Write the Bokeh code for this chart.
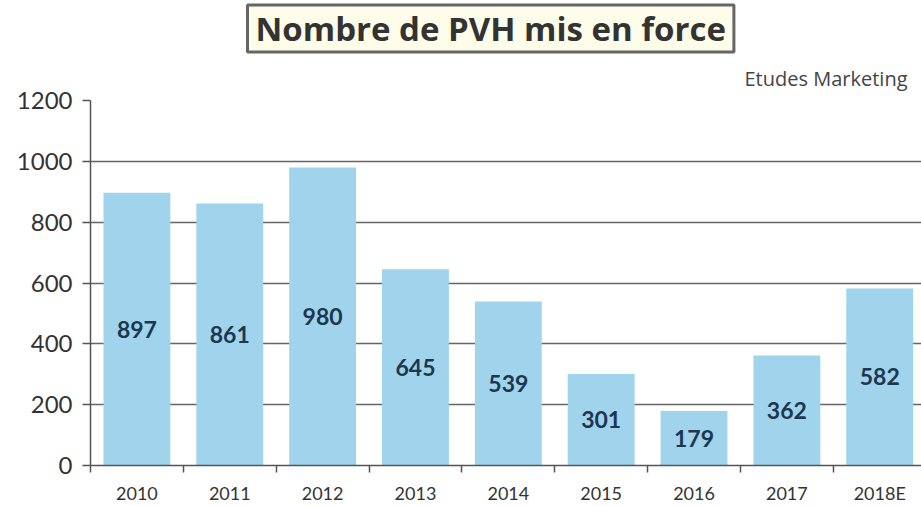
from bokeh.plotting import figure
from bokeh.models import Range1d, FixedTicker, Title, ColumnDataSource
from bokeh.core.properties import value
from bokeh.embed import file_html
from bokeh.resources import INLINE

years = ["2010", "2011", "2012", "2013", "2014", "2015", "2016", "2017", "2018E"]
counts = [897, 861, 980, 645, 539, 301, 179, 362, 582]
y_ticks = [0, 200, 400, 600, 800, 1000, 1200]
title_text = "Nombre de PVH mis en force"
source_text = "Etudes Marketing"

FONT = "Lato"
TFONT = "Open Sans"
xs = list(range(len(years)))
src = ColumnDataSource(dict(x=xs, v=counts, mid=[c / 2 for c in counts],
                            lab=[str(c) for c in counts]))

p = figure(width=921, height=506, output_backend="svg", toolbar_location=None,
           x_range=Range1d(-0.5, 8.45), y_range=Range1d(0, 1200),
           min_border_left=90, min_border_right=0, min_border_top=0, min_border_bottom=41)
p.outline_line_color = None
p.background_fill_color = "white"
p.border_fill_color = "white"

p.vbar(x="x", top="v", bottom=0, width=0.72, source=src,
       fill_color="#9fd4ec", line_color=None)
p.text(x="x", y="mid", text="lab", source=src, text_align="center", text_baseline="middle",
       text_font=value(FONT), text_font_style="bold", text_font_size="23px", text_color="#1d3750")

# axes
p.xaxis.ticker = FixedTicker(ticks=xs, minor_ticks=[i - 0.5 for i in range(len(years) + 1)])
p.xaxis.major_label_overrides = {i: y for i, y in enumerate(years)}
p.xaxis.major_tick_out = 0
p.xaxis.major_tick_in = 0
p.xaxis.minor_tick_out = 7
p.xaxis.minor_tick_in = 0
p.xaxis.minor_tick_line_color = "#555555"
p.xaxis.minor_tick_line_width = 1.5
p.xaxis.axis_line_color = "#555555"
p.xaxis.axis_line_width = 1.5
p.xaxis.major_label_standoff = 9
p.xaxis.major_label_text_font = FONT
p.xaxis.major_label_text_font_size = "18px"
p.xaxis.major_label_text_color = "#333333"

p.yaxis.ticker = FixedTicker(ticks=y_ticks)
p.yaxis.minor_tick_out = 0
p.yaxis.minor_tick_in = 0
p.yaxis.major_tick_out = 8
p.yaxis.major_tick_in = 0
p.yaxis.major_tick_line_color = "#555555"
p.yaxis.major_tick_line_width = 1.5
p.yaxis.axis_line_color = "#555555"
p.yaxis.axis_line_width = 1.5
p.yaxis.major_label_standoff = 10
p.yaxis.major_label_text_font = FONT
p.yaxis.major_label_text_font_size = "24px"
p.yaxis.major_label_text_color = "#333333"

p.xgrid.grid_line_color = None
p.ygrid.ticker = FixedTicker(ticks=y_ticks)
p.ygrid.grid_line_color = "#666666"
p.ygrid.grid_line_width = 1.3

sub = Title(text=source_text, align="right", text_font=TFONT, text_font_style="normal",
            text_font_size="20px", text_color="#444444", offset=14, standoff=17)
p.add_layout(sub, "above")

main = Title(text=title_text, align="left", offset=157, text_font=TFONT,
             text_font_style="bold", text_font_size="33px", text_color="#333333",
             background_fill_color="#fdfde9", border_line_color="#666666",
             border_line_width=3, padding=(8, 1), standoff=5)
p.add_layout(main, "above")

open("out.html", "w").write(file_html(p, INLINE))
